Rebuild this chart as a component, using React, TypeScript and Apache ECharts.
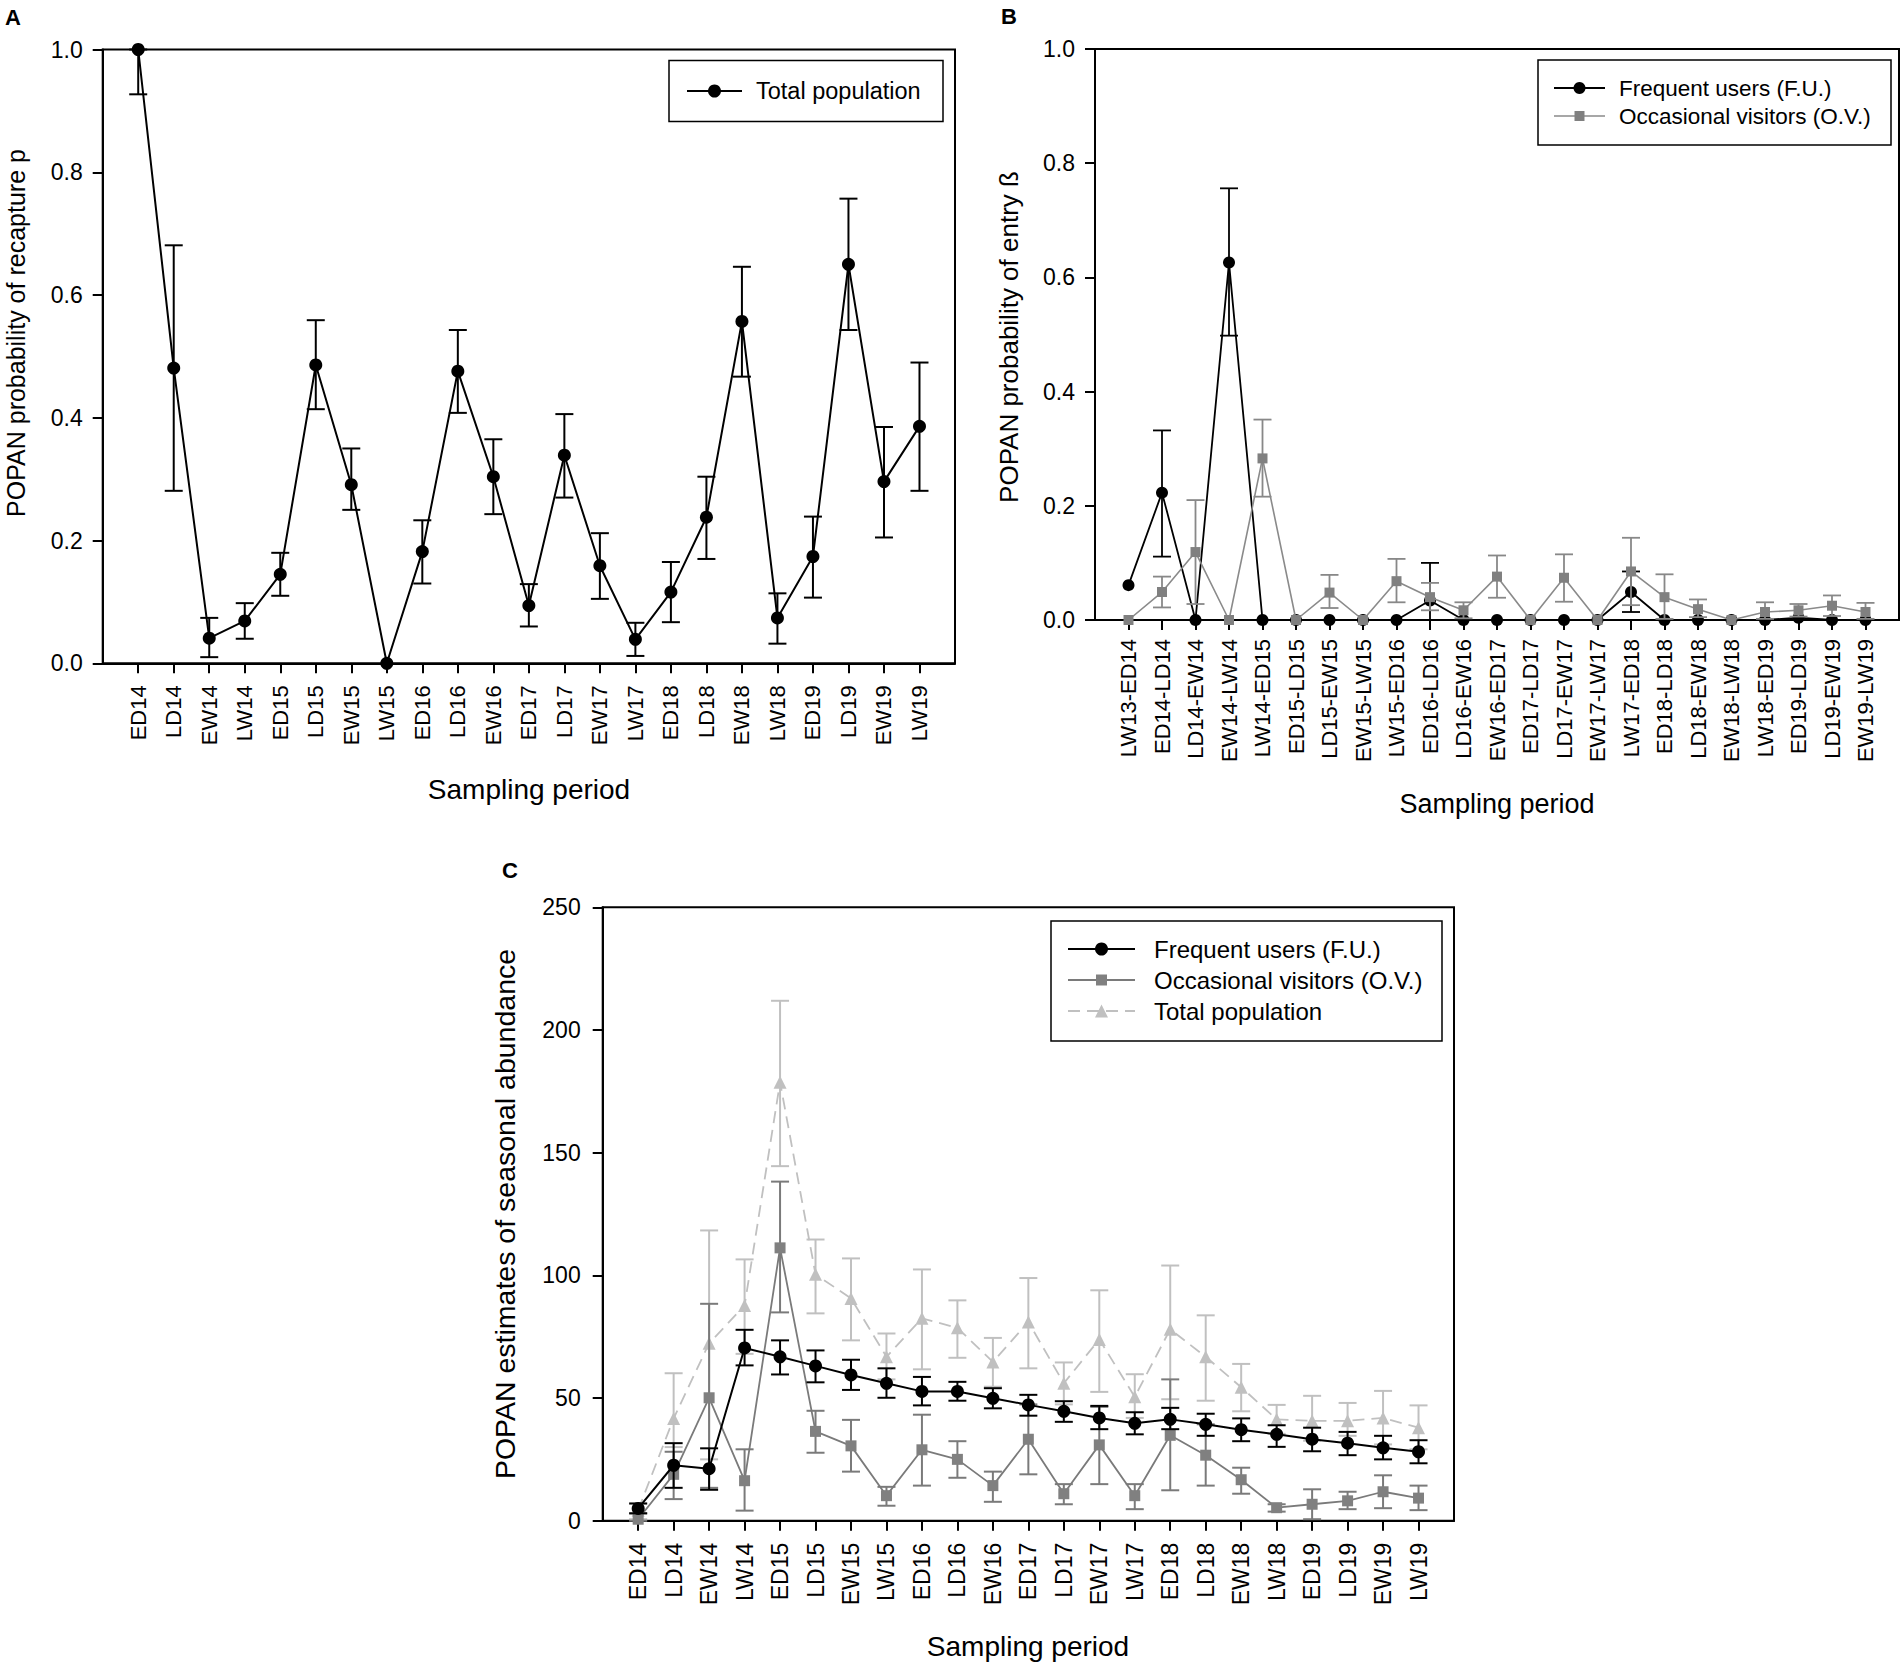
import React, { useEffect, useRef } from "react";
import * as echarts from "echarts";

const FONT = '"Liberation Sans", Arial, Helvetica, sans-serif';

// ---------- Panel A ----------
const catA = ["ED14","LD14","EW14","LW14","ED15","LD15","EW15","LW15","ED16","LD16","EW16","ED17","LD17","EW17","LW17","ED18","LD18","EW18","LW18","ED19","LD19","EW19","LW19"];
const pA = [1.0, 0.481, 0.041, 0.069, 0.145, 0.486, 0.291, 0.0, 0.182, 0.476, 0.304, 0.094, 0.339, 0.159, 0.039, 0.116, 0.238, 0.557, 0.074, 0.174, 0.650, 0.296, 0.386];
const pALo = [0.927, 0.281, 0.010, 0.040, 0.110, 0.414, 0.250, null, 0.130, 0.408, 0.243, 0.060, 0.270, 0.105, 0.012, 0.067, 0.170, 0.467, 0.032, 0.107, 0.543, 0.205, 0.281];
const pAHi = [1.0, 0.681, 0.074, 0.098, 0.180, 0.559, 0.350, null, 0.233, 0.543, 0.365, 0.129, 0.406, 0.212, 0.066, 0.165, 0.304, 0.646, 0.114, 0.239, 0.757, 0.385, 0.490];

// ---------- Panel B ----------
const catB = ["LW13-ED14","ED14-LD14","LD14-EW14","EW14-LW14","LW14-ED15","ED15-LD15","LD15-EW15","EW15-LW15","LW15-ED16","ED16-LD16","LD16-EW16","EW16-ED17","ED17-LD17","LD17-EW17","EW17-LW17","LW17-ED18","ED18-LD18","LD18-EW18","EW18-LW18","LW18-ED19","ED19-LD19","LD19-EW19","EW19-LW19"];
const fuB = [0.061, 0.223, 0, 0.626, 0, 0, 0, 0, 0, 0.034, 0, 0, 0, 0, 0, 0.049, 0, 0, 0, 0, 0.004, 0, 0];
const fuBLo = [null, 0.111, null, 0.498, null, null, null, null, null, 0.0, null, null, null, null, null, 0.014, null, null, null, null, null, null, null];
const fuBHi = [null, 0.332, null, 0.756, null, null, null, null, null, 0.100, null, null, null, null, null, 0.085, null, null, null, null, null, null, null];
const ovB = [0, 0.049, 0.119, 0, 0.283, 0, 0.048, 0, 0.068, 0.040, 0.017, 0.076, 0, 0.074, 0, 0.085, 0.040, 0.019, 0, 0.014, 0.017, 0.025, 0.014];
const ovBLo = [null, 0.022, 0.028, null, 0.216, null, 0.021, null, 0.031, 0.017, 0.003, 0.039, null, 0.032, null, 0.026, 0.002, 0.005, null, 0.002, 0.006, 0.007, 0.002];
const ovBHi = [null, 0.076, 0.210, null, 0.351, null, 0.079, null, 0.107, 0.065, 0.031, 0.113, null, 0.115, null, 0.144, 0.080, 0.036, null, 0.031, 0.028, 0.043, 0.030];

// ---------- Panel C ----------
const catC = catA;
const fuC = [5, 22.6, 21.2, 70.4, 66.8, 63.1, 59.4, 56.0, 52.7, 52.7, 49.9, 47.2, 44.6, 41.9, 39.7, 41.3, 39.3, 37.1, 35.2, 33.2, 31.6, 29.7, 28.1];
const fuCLo = [3, 13.4, 12.6, 63.3, 59.6, 56.4, 53.3, 50.1, 47.0, 48.9, 45.8, 42.8, 40.3, 37.3, 35.2, 37.3, 34.6, 32.4, 30.1, 28.3, 26.7, 25.0, 23.4];
const fuCHi = [7, 31.6, 29.5, 77.8, 73.5, 69.4, 65.6, 62.1, 58.6, 56.6, 54.0, 51.3, 48.7, 46.8, 44.2, 46.0, 43.6, 41.7, 38.9, 37.9, 36.2, 34.6, 32.8];
const ovC = [0.6, 18.9, 50.1, 16.3, 111.2, 36.4, 30.5, 10.2, 28.9, 25.0, 14.3, 33.2, 11.0, 30.9, 10.2, 34.8, 26.7, 16.7, 5.3, 6.7, 8.1, 11.8, 9.2];
const ovCLo = [0, 8.8, 13.4, 4.1, 84.9, 27.7, 20.0, 6.1, 14.3, 17.5, 7.7, 18.9, 6.7, 14.9, 4.7, 12.4, 14.3, 11.0, 3.7, 0.6, 4.7, 5.1, 4.3];
const ovCHi = [3, 28.1, 88.4, 29.1, 138.2, 44.8, 41.1, 13.8, 43.2, 32.4, 20.0, 47.4, 14.9, 46.4, 14.9, 57.6, 39.3, 21.6, 6.7, 12.8, 11.8, 18.5, 14.3];
const totC = [4.3, 41.7, 72.3, 87.7, 178.7, 100.4, 90.6, 66.8, 82.5, 78.6, 64.7, 81.0, 56.0, 73.9, 50.5, 78.0, 66.8, 54.4, 41.3, 40.7, 40.7, 41.9, 37.9];
const totCLo = [0.6, 30, 25.0, 68, 144.5, 84.5, 73.5, 57.6, 61.7, 66.4, 54.6, 62.1, 47.4, 52.5, 41.9, 49.5, 48.9, 44.6, 35.4, 32.6, 34.6, 31.1, 29.1];
const totCHi = [7.1, 60.1, 118.3, 106.5, 211.9, 114.6, 106.9, 76.3, 102.4, 89.8, 74.5, 98.9, 64.5, 93.9, 59.7, 104.0, 83.7, 63.9, 47.2, 50.9, 48.0, 52.9, 47.0];

const BLACK = "#000000";
const GREY = "#808080";
const LIGHT = "#c0c0c0";

function pts(vals: number[]) {
  return vals.map((v, i) => [i + 1, v]);
}
function errData(lo: (number | null)[], hi: (number | null)[]) {
  const out: number[][] = [];
  lo.forEach((l, i) => {
    const h = hi[i];
    if (l !== null && h !== null) out.push([i + 1, l, h]);
  });
  return out;
}
function errSeries(idx: number, lo: (number | null)[], hi: (number | null)[], color: string, width: number, cap: number, z: number) {
  return {
    type: "custom",
    xAxisIndex: idx,
    yAxisIndex: idx,
    z,
    silent: true,
    encode: { x: 0, y: [1, 2] },
    data: errData(lo, hi),
    renderItem: (params: any, api: any) => {
      const x = api.value(0);
      const a = api.coord([x, api.value(1)]);
      const b = api.coord([x, api.value(2)]);
      const st = { stroke: color, lineWidth: width };
      return {
        type: "group",
        children: [
          { type: "line", shape: { x1: a[0], y1: a[1], x2: b[0], y2: b[1] }, style: st },
          { type: "line", shape: { x1: a[0] - cap, y1: a[1], x2: a[0] + cap, y2: a[1] }, style: st },
          { type: "line", shape: { x1: b[0] - cap, y1: b[1], x2: b[0] + cap, y2: b[1] }, style: st },
        ],
      };
    },
  };
}
function lineSeries(idx: number, name: string, vals: number[], color: string, lineColor: string, width: number, symbol: string, size: number, z: number, dash?: any) {
  return {
    type: "line",
    name,
    xAxisIndex: idx,
    yAxisIndex: idx,
    z,
    clip: false,
    data: pts(vals),
    symbol,
    symbolSize: size,
    showAllSymbol: true,
    itemStyle: { color, borderWidth: 0 },
    lineStyle: { color: lineColor, width, type: dash || "solid" },
  };
}

function xAxisCfg(idx: number, cats: string[], fontSize: number, margin: number) {
  const full = ["", ...cats, ""];
  const show = (i: number) => i > 0 && i <= cats.length;
  return {
    gridIndex: idx,
    type: "category",
    data: full,
    boundaryGap: false,
    axisLine: { show: true, lineStyle: { color: BLACK, width: 2 } },
    axisTick: { show: true, interval: show, length: 10, lineStyle: { color: BLACK, width: 2 } },
    axisLabel: { interval: show, rotate: 90, margin, fontSize, color: BLACK, fontFamily: FONT },
    splitLine: { show: false },
  };
}
function yAxisCfg(idx: number, max: number, interval: number, dec: number, margin: number) {
  return {
    gridIndex: idx,
    type: "value",
    min: 0,
    max,
    interval,
    axisLine: { show: true, lineStyle: { color: BLACK, width: 2 } },
    axisTick: { show: true, length: 10, lineStyle: { color: BLACK, width: 2 } },
    axisLabel: { margin, fontSize: 23, color: BLACK, fontFamily: FONT, formatter: (v: number) => v.toFixed(dec) },
    splitLine: { show: false },
  };
}

function txt(text: string, x: number, y: number, size: number, opts: any = {}) {
  return {
    type: "text",
    x,
    y,
    rotation: opts.rotation || 0,
    silent: true,
    style: {
      text,
      x: 0,
      y: 0,
      fill: BLACK,
      fontSize: size,
      fontFamily: FONT,
      fontWeight: opts.bold ? "bold" : "normal",
      textAlign: opts.align || "center",
      textVerticalAlign: "middle",
    },
  };
}
function sym(kind: string, cx: number, cy: number, size: number, color: string) {
  if (kind === "circle") return { type: "circle", shape: { cx, cy, r: size / 2 }, style: { fill: color }, silent: true };
  if (kind === "rect") return { type: "rect", shape: { x: cx - size / 2, y: cy - size / 2, width: size, height: size }, style: { fill: color }, silent: true };
  const h = size;
  return { type: "polygon", shape: { points: [[cx, cy - h / 2], [cx + h / 2, cy + h / 2], [cx - h / 2, cy + h / 2]] }, style: { fill: color }, silent: true };
}
function legendRow(x1: number, x2: number, y: number, kind: string, size: number, color: string, lineColor: string, lw: number, dash: any, label: string, tx: number, fs: number) {
  return [
    { type: "line", silent: true, shape: { x1, y1: y, x2, y2: y }, style: { stroke: lineColor, lineWidth: lw, lineDash: dash } },
    sym(kind, (x1 + x2) / 2, y, size, color),
    txt(label, tx, y, fs, { align: "left" }),
  ];
}
function box(x: number, y: number, w: number, h: number) {
  return { type: "rect", silent: true, shape: { x, y, width: w, height: h }, style: { fill: "#ffffff", stroke: BLACK, lineWidth: 1.5 } };
}

export default function App() {
  const ref = useRef<HTMLDivElement>(null);
  useEffect(() => {
    document.body.style.margin = "0";
    const chart = echarts.init(ref.current as HTMLDivElement, null, { renderer: "svg" });
    const option: any = {
      animation: false,
      backgroundColor: "#ffffff",
      textStyle: { fontFamily: FONT },
      grid: [
        { left: 102.7, top: 49.5, width: 852.3, height: 613.8, show: true, borderColor: BLACK, borderWidth: 2, containLabel: false },
        { left: 1095, top: 49, width: 804, height: 571, show: true, borderColor: BLACK, borderWidth: 2, containLabel: false },
        { left: 602.7, top: 907.3, width: 851.3, height: 613.4, show: true, borderColor: BLACK, borderWidth: 2, containLabel: false },
      ],
      xAxis: [xAxisCfg(0, catA, 22, 22), xAxisCfg(1, catB, 22, 19), xAxisCfg(2, catC, 23, 22)],
      yAxis: [yAxisCfg(0, 1, 0.2, 1, 20), yAxisCfg(1, 1, 0.2, 1, 20), yAxisCfg(2, 250, 50, 0, 22)],
      series: [
        // A
        errSeries(0, pALo, pAHi, BLACK, 2, 9, 2),
        lineSeries(0, "Total population", pA, BLACK, BLACK, 2, "circle", 13, 3),
        // B
        errSeries(1, fuBLo, fuBHi, BLACK, 1.8, 9, 2),
        lineSeries(1, "Frequent users (F.U.)", fuB, BLACK, BLACK, 1.8, "circle", 12, 3),
        errSeries(1, ovBLo, ovBHi, "#888888", 1.8, 9, 4),
        lineSeries(1, "Occasional visitors (O.V.)", ovB, GREY, "#8a8a8a", 1.6, "rect", 10, 5),
        // C
        errSeries(2, totCLo, totCHi, LIGHT, 2, 9, 2),
        lineSeries(2, "Total population", totC, LIGHT, LIGHT, 1.8, "triangle", 13, 3, [12, 7]),
        errSeries(2, ovCLo, ovCHi, "#7a7a7a", 2, 9, 4),
        lineSeries(2, "Occasional visitors (O.V.)", ovC, GREY, "#7a7a7a", 1.8, "rect", 11, 5),
        errSeries(2, fuCLo, fuCHi, BLACK, 2, 9, 6),
        lineSeries(2, "Frequent users (F.U.)", fuC, BLACK, BLACK, 2, "circle", 13, 7),
      ],
      graphic: [
        // panel letters
        txt("A", 13, 17, 22, { bold: true }),
        txt("B", 1009, 16, 22, { bold: true }),
        txt("C", 510, 870, 22, { bold: true }),
        // axis titles
        txt("POPAN probability of recapture p", 16, 333, 25, { rotation: Math.PI / 2 }),
        txt("Sampling period", 529, 789, 28),
        txt("POPAN probability of entry ß", 1009, 337, 26, { rotation: Math.PI / 2 }),
        txt("Sampling period", 1497, 804, 27),
        txt("POPAN estimates of seasonal abundance", 505, 1214, 28.5, { rotation: Math.PI / 2 }),
        txt("Sampling period", 1028, 1646, 28),
        // legend A
        box(669, 60.5, 274, 61),
        ...legendRow(687, 742, 91, "circle", 13, BLACK, BLACK, 2, null, "Total population", 756, 23.5),
        // legend B
        box(1538, 60, 353, 85),
        ...legendRow(1554, 1605, 88, "circle", 12, BLACK, BLACK, 1.8, null, "Frequent users (F.U.)", 1619, 22.5),
        ...legendRow(1554, 1605, 116, "rect", 10, GREY, "#8a8a8a", 1.6, null, "Occasional visitors (O.V.)", 1619, 22.5),
        // legend C
        box(1051, 921, 391, 120),
        ...legendRow(1068, 1135, 949, "circle", 13, BLACK, BLACK, 2, null, "Frequent users (F.U.)", 1154, 24),
        ...legendRow(1068, 1135, 980, "rect", 11, GREY, "#7a7a7a", 1.8, null, "Occasional visitors (O.V.)", 1154, 24),
        ...legendRow(1068, 1135, 1011, "triangle", 13, LIGHT, LIGHT, 1.8, [12, 7], "Total population", 1154, 24),
      ],
    };
    chart.setOption(option);
    return () => chart.dispose();
  }, []);
  return <div ref={ref} style={{ position: "absolute", left: 0, top: 0, width: 1901, height: 1662 }} />;
}
